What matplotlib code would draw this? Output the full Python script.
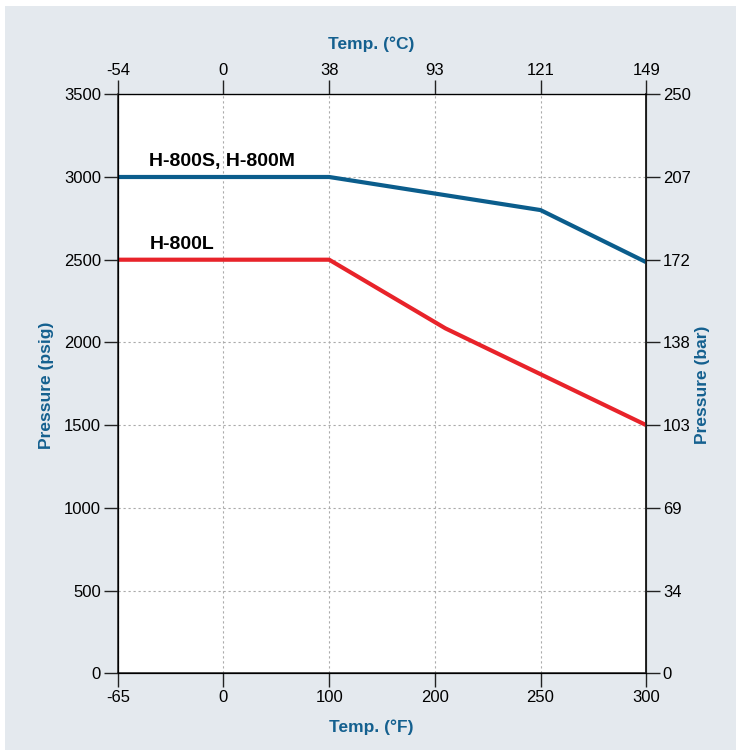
import numpy as np
import matplotlib.pyplot as plt
from matplotlib.patches import Rectangle

plt.rcParams['font.family'] = ['Liberation Sans', 'DejaVu Sans']

# Axis ticks (equally spaced on the chart)
temp_f_ticks = [-65, 0, 100, 200, 250, 300]
temp_c_labels = ['-54', '0', '38', '93', '121', '149']
psig_ticks = [0, 500, 1000, 1500, 2000, 2500, 3000, 3500]
bar_labels = ['0', '34', '69', '103', '138', '172', '207', '250']

# Series (deg F, psig)
sm_temp = [-65, 100, 250, 300]
sm_psig = [3000, 3000, 2800, 2485]
l_temp = [-65, 100, 205, 300]
l_psig = [2500, 2500, 2085, 1500]

blue = '#0b5d8c'
red = '#e8232a'
label_blue = '#14608f'

tick_pos = np.arange(len(temp_f_ticks))


def to_pos(t):
    # piecewise mapping of deg F onto the evenly spaced tick positions
    return np.interp(t, temp_f_ticks, tick_pos)


fig = plt.figure(figsize=(7.36, 7.5), dpi=100, facecolor='white')
fig.patches.append(Rectangle((5 / 736, 0), 1, 744 / 750, transform=fig.transFigure,
                             facecolor='#e4e9ee', edgecolor='none', zorder=-10))

ax = fig.add_axes([0.160, 0.1023, 0.718, 0.772])
ax.set_facecolor('white')

ax.plot(to_pos(sm_temp), sm_psig, color=blue, lw=3, solid_capstyle='butt', zorder=3)
ax.plot(to_pos(l_temp), l_psig, color=red, lw=3, solid_capstyle='butt', zorder=3)

ax.text(0.3, 3040, 'H-800S, H-800M', fontsize=14, fontweight='bold', ha='left', va='bottom')
ax.text(0.3, 2540, 'H-800L', fontsize=14, fontweight='bold', ha='left', va='bottom')

ax.set_xlim(tick_pos[0], tick_pos[-1])
ax.set_ylim(0, 3500)
ax.set_xticks(tick_pos)
ax.set_xticklabels([str(t) for t in temp_f_ticks])
ax.set_yticks(psig_ticks)
ax.set_yticklabels([str(p) for p in psig_ticks])
ax.grid(True, color='#aaaaaa', linestyle=(0, (2, 2.5)), lw=0.8)
ax.tick_params(direction='out', length=10, width=1, labelsize=12, pad=2, color='#222222')

for s in ['left', 'bottom', 'right']:
    ax.spines[s].set_color('#222222')
    ax.spines[s].set_linewidth(1.1)
ax.spines['top'].set_color('#777777')
ax.spines['top'].set_linewidth(1.0)

axt = ax.twiny()
axt.set_xlim(ax.get_xlim())
axt.set_xticks(tick_pos)
axt.set_xticklabels(temp_c_labels)
axt.tick_params(direction='out', length=10, width=1, labelsize=12, pad=2, color='#222222')
axt.spines['top'].set_color('#777777')

axr = ax.twinx()
axr.set_ylim(ax.get_ylim())
axr.set_yticks(psig_ticks)
axr.set_yticklabels(bar_labels)
axr.tick_params(direction='out', length=10, width=1, labelsize=12, pad=2, color='#222222')
axr.spines['right'].set_color('#222222')
axr.spines['right'].set_linewidth(1.1)

fig.text(371 / 736, 1 - 44 / 750, 'Temp. (°C)', color=label_blue, fontsize=12.5,
         fontweight='bold', ha='center', va='center')
fig.text(371 / 736, 1 - 727 / 750, 'Temp. (°F)', color=label_blue, fontsize=12.5,
         fontweight='bold', ha='center', va='center')
fig.text(47 / 736, 1 - 385 / 750, 'Pressure (psig)', color=label_blue, fontsize=12.5,
         fontweight='bold', ha='center', va='center', rotation=90)
fig.text(703 / 736, 1 - 385 / 750, 'Pressure (bar)', color=label_blue, fontsize=12.5,
         fontweight='bold', ha='center', va='center', rotation=90)

fig.savefig('out.png', dpi=100, facecolor=fig.get_facecolor())
